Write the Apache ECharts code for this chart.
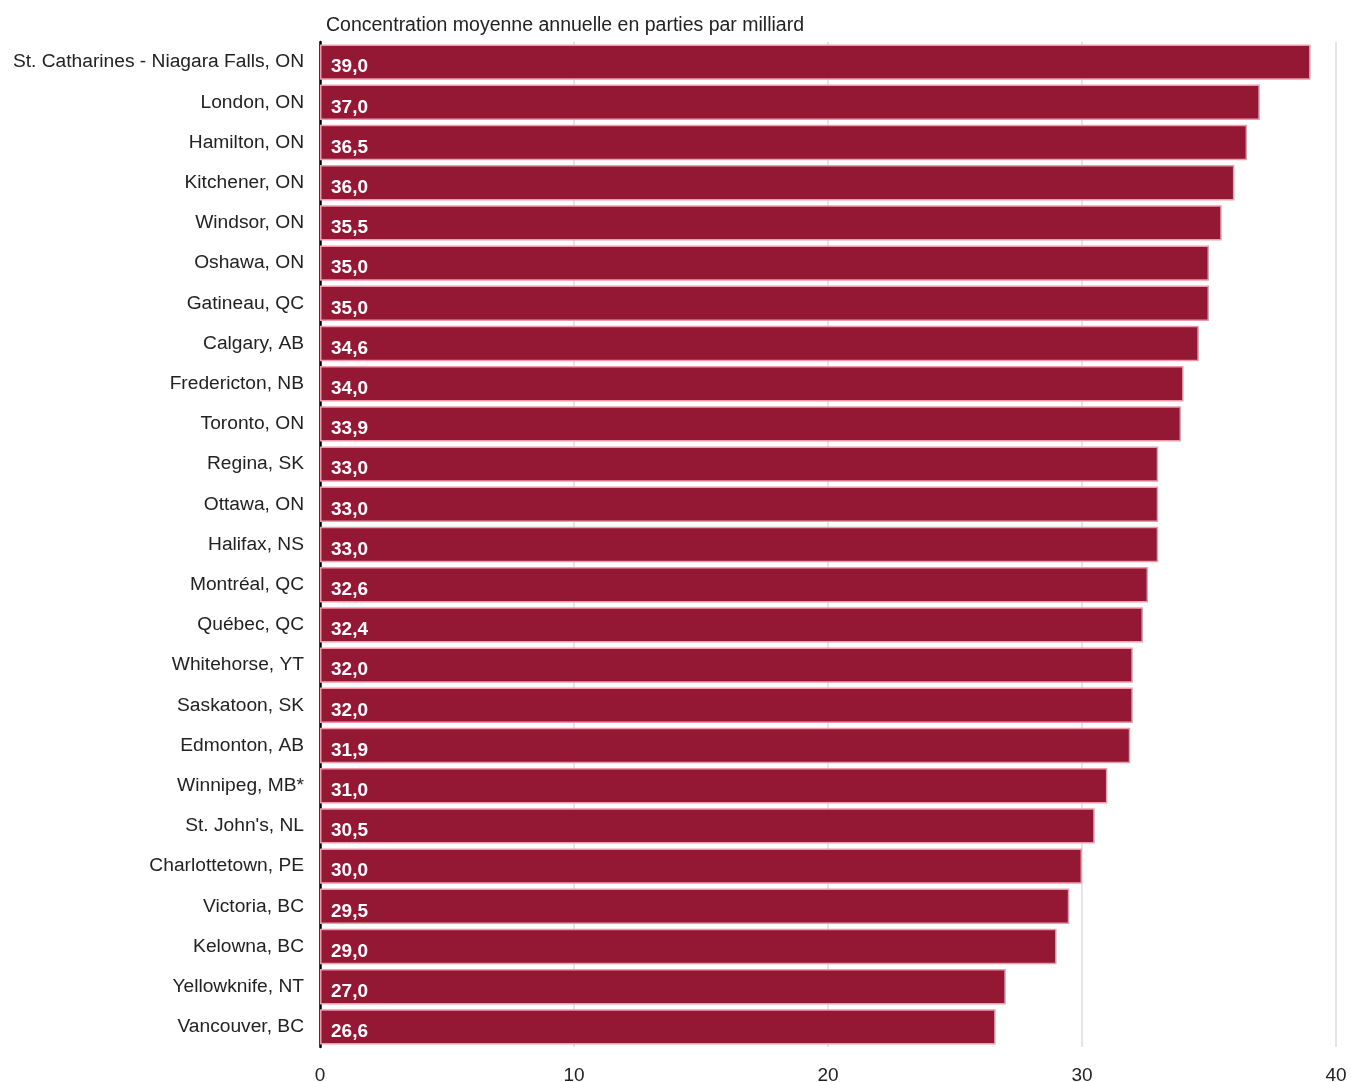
<!DOCTYPE html>
<html><head><meta charset="utf-8">
<script src="https://cdn.jsdelivr.net/npm/echarts@6/dist/echarts.min.js"></script>
<style>html,body{margin:0;padding:0;background:#fff}#c{width:1351px;height:1082px}</style>
</head><body><div id="c"></div>
<script>
const categories = ["St. Catharines - Niagara Falls, ON","London, ON","Hamilton, ON","Kitchener, ON","Windsor, ON","Oshawa, ON","Gatineau, QC","Calgary, AB","Fredericton, NB","Toronto, ON","Regina, SK","Ottawa, ON","Halifax, NS","Montréal, QC","Québec, QC","Whitehorse, YT","Saskatoon, SK","Edmonton, AB","Winnipeg, MB*","St. John's, NL","Charlottetown, PE","Victoria, BC","Kelowna, BC","Yellowknife, NT","Vancouver, BC"];
const values = [39.0,37.0,36.5,36.0,35.5,35.0,35.0,34.6,34.0,33.9,33.0,33.0,33.0,32.6,32.4,32.0,32.0,31.9,31.0,30.5,30.0,29.5,29.0,27.0,26.6];
const xTicks = [0,10,20,30,40];
const title = "Concentration moyenne annuelle en parties par milliard";

const chart = echarts.init(document.getElementById('c'));
chart.setOption({
  animation:false,
  textStyle:{fontFamily:'Liberation Sans, Arial, sans-serif'},
  title:{text:title,left:321,top:11,textStyle:{fontSize:19.5,fontWeight:'normal',color:'#222',fontFamily:'Liberation Sans, Arial, sans-serif'}},
  grid:{left:320,right:15,top:42,bottom:35,containLabel:false,outerBoundsMode:'none'},
  xAxis:{type:'value',min:0,max:40,interval:10,
    axisLine:{show:false},axisTick:{show:false},
    axisLabel:{fontSize:19,color:'#222',margin:19,formatter:v=>xTicks.includes(v)?String(v):''},
    splitLine:{show:true,lineStyle:{color:'#dcdcdc',width:1.5}}},
  yAxis:{type:'category',data:categories,inverse:true,
    axisLine:{show:true,lineStyle:{color:'#000',width:2.5}},axisTick:{show:false},
    axisLabel:{fontSize:19.2,color:'#222',margin:16}},
  series:[{type:'bar',data:values,barCategoryGap:'12%',
    itemStyle:{color:'#941734',borderColor:'#ee9aac',borderWidth:1.5},
    label:{show:true,position:'insideLeft',distance:10,offset:[1,5],color:'#fff',fontWeight:'bold',fontSize:19,
      formatter:p=>p.value.toFixed(1).replace('.',',')}}]
});
</script></body></html>
